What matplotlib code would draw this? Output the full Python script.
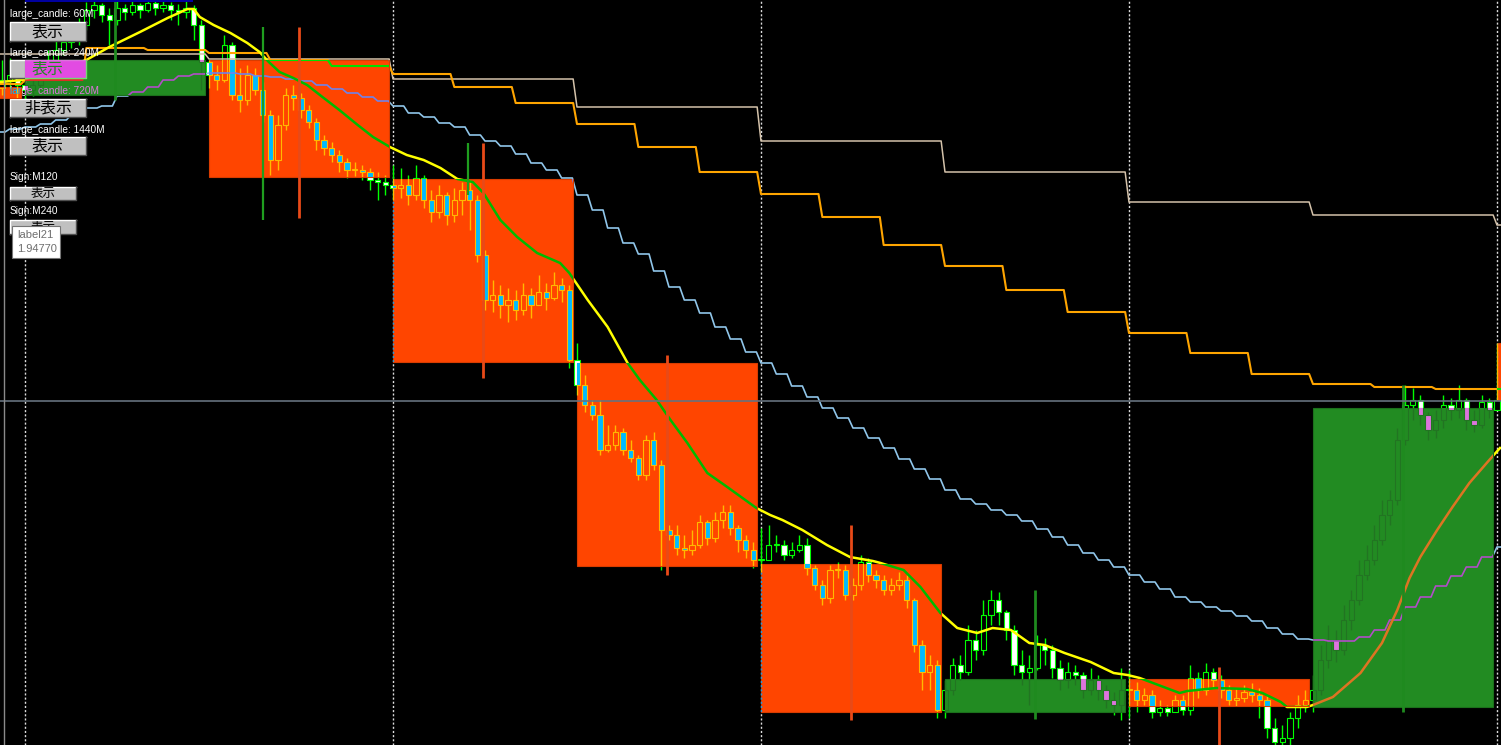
#!/usr/bin/env python3
import matplotlib
matplotlib.use("Agg")
import matplotlib.pyplot as plt
import numpy as np
from matplotlib.colors import to_rgb
from matplotlib.patches import Rectangle
from matplotlib.transforms import Bbox, TransformedBbox

W, H = 1501, 745

# prices are kept in pips above BASE
BASE = 1.9000
PIP = 0.0001

# 30 minute bars, time in hours from the first day separator
BAR_T0 = -1.5
BAR_DT = 0.5
FIRST_OPEN = 912

bar_close = [
    920, 925, 915,
    910, 915, 930, 940, 950, 958, 960, 975, 990, 995, 985, 980,
    992, 988, 995, 990, 997, 992, 995, 990, 988, 992, 975, 938,
    925, 920, 955, 905, 900, 925, 910, 885, 840, 875, 905, 902,
    890, 878, 860, 852, 845, 838, 830, 830, 828, 820, 818, 815,
    812, 815, 805, 822, 800, 788, 805, 785, 800, 810, 800, 745,
    700, 705, 695, 700, 690, 705, 695, 708, 702, 715, 710, 640,
    615, 595, 585, 550, 555, 568, 550, 542, 525, 560, 535, 470,
    465, 452, 450, 455, 478, 462, 480, 488, 472, 460, 450, 440,
    440, 455, 455, 445, 450, 455, 432, 415, 402, 430, 430, 405,
    415, 438, 425, 420, 410, 415, 420, 400, 355, 328, 335, 290,
    310, 335, 328, 360, 350, 385, 400, 388, 370, 335, 328, 332,
    355, 350, 332, 320, 328, 325, 310, 320, 310, 300, 295, 310,
    310, 300, 305, 288, 292, 288, 300, 290, 322, 310, 328, 320,
    310, 300, 302, 308, 305, 300, 272, 258, 262, 282, 295, 300,
    310, 340, 360, 350, 380, 400, 425, 440, 460, 485, 500, 560,
    595, 600, 585, 570, 580, 595, 590, 600, 580, 575, 598, 590,
    600,
]
bar_high = [
    940, 942, 930,
    920, 925, 938, 950, 960, 965, 970, 982, 998, 1000, 997, 992,
    1000, 996, 1000, 997, 1003, 1000, 1002, 998, 996, 1001, 995, 980,
    940, 935, 965, 958, 932, 935, 932, 918, 890, 885, 912, 915,
    907, 895, 882, 865, 858, 850, 842, 838, 835, 832, 828, 825,
    835, 832, 825, 835, 825, 810, 815, 808, 812, 818, 820, 805,
    750, 720, 715, 712, 710, 717, 712, 725, 717, 728, 722, 715,
    657, 625, 600, 600, 575, 575, 572, 560, 545, 565, 568, 540,
    475, 475, 465, 470, 485, 480, 488, 495, 495, 475, 465, 458,
    472, 475, 465, 460, 458, 465, 462, 435, 420, 435, 438, 435,
    422, 445, 442, 430, 425, 422, 428, 425, 402, 360, 345, 340,
    320, 342, 345, 375, 370, 400, 410, 408, 390, 375, 350, 345,
    365, 362, 355, 340, 338, 335, 328, 332, 325, 315, 308, 332,
    330, 318, 312, 310, 300, 295, 305, 305, 335, 328, 337, 332,
    325, 315, 312, 315, 317, 312, 305, 282, 275, 288, 305, 310,
    325, 355, 375, 370, 395, 410, 440, 455, 475, 500, 510, 572,
    615, 612, 605, 588, 590, 605, 602, 615, 602, 590, 605, 602,
    657,
]
bar_low = [
    905, 912, 902,
    900, 904, 910, 925, 935, 945, 952, 955, 970, 982, 978, 955,
    975, 980, 985, 982, 988, 985, 988, 980, 975, 982, 960, 910,
    912, 910, 918, 900, 888, 895, 905, 878, 825, 830, 870, 890,
    882, 872, 850, 845, 838, 828, 822, 824, 820, 810, 800, 805,
    800, 802, 795, 800, 792, 778, 782, 775, 778, 785, 770, 738,
    690, 688, 682, 678, 680, 685, 682, 695, 690, 700, 698, 632,
    605, 588, 580, 545, 548, 550, 545, 538, 520, 520, 530, 430,
    460, 445, 442, 445, 452, 455, 458, 472, 465, 448, 442, 432,
    428, 440, 448, 440, 442, 448, 425, 410, 395, 397, 422, 400,
    400, 410, 418, 412, 405, 405, 410, 392, 348, 310, 310, 282,
    282, 305, 320, 325, 340, 345, 375, 375, 360, 325, 315, 295,
    330, 335, 322, 310, 312, 315, 302, 305, 300, 292, 285, 280,
    282, 288, 295, 282, 284, 284, 288, 285, 285, 302, 305, 312,
    302, 295, 294, 298, 298, 282, 262, 250, 248, 255, 272, 288,
    288, 305, 332, 338, 345, 370, 395, 420, 435, 455, 475, 495,
    555, 580, 575, 560, 562, 572, 580, 582, 570, 568, 572, 582,
    590,
]

# 720 minute "large candles"
BIG_T0 = -12
BIG_SPAN = 12
big_open = [913, 905, 940, 821, 637, 436, 288, 321, 293, 657]
big_close = [902, 940, 823, 638, 434, 288, 321, 294, 592, 600]
big_high = [913, 1000, 973, 857, 645, 475, 410, 333, 615, 657]
big_low = [902, 900, 782, 622, 425, 280, 281, 240, 288, 600]

# higher timeframe step lines
STEP4_T0 = -4
step4_vals = [916, 920, 952, 950, 947, 940, 934, 926, 913, 897, 876, 853, 828,
              806, 783, 755, 734, 710, 688, 667, 647, 626, 616, 613, 611, 611]
STEP12_T0 = -12
step12_vals = [946, 946, 941, 921, 893, 859, 828, 798, 785, 775]
BLUE_T0 = -2
blue_vals = [
    868, 871, 873, 876, 880, 885, 892, 894, 904, 908, 913, 920, 924, 926,
    927, 927, 926, 924, 923, 921, 919, 915, 911, 907, 903, 899, 894, 887,
    883, 877, 873, 865, 859, 854, 846, 837, 830, 822, 805, 790, 772, 757,
    746, 729, 713, 700, 687, 673, 661, 648, 637, 626, 614, 603, 592, 582,
    572, 562, 552, 541, 531, 521, 510, 501, 496, 490, 485, 479, 471, 463,
    455, 447, 440, 433, 425, 418, 411, 403, 398, 393, 389, 384, 379, 372,
    366, 361, 360, 359, 359, 363, 370, 380, 393, 403, 414, 424, 433, 443,
    453, 460,
]

# moving average
ma_t = [-1.6, -0.2, 1.6, 4.0, 5.5, 7.5, 9.3, 10.6, 11.0, 11.4, 12.3, 13.4, 14.5,
        15.3, 15.9, 16.6, 17.5, 18.4, 19.4, 20.5, 21.7, 22.7, 23.8, 24.9, 26.0,
        27.1, 28.2, 29.2, 29.9, 31.0, 32.1, 33.4, 34.9, 35.5, 36.7, 38.0, 39.3,
        40.1, 41.2, 42.1, 43.2, 44.5, 45.8, 47.7, 48.6, 49.4, 50.7, 52.3, 53.8,
        55.3, 55.8, 57.3, 58.4, 59.7, 60.8, 62.1, 63.1, 64.3, 65.5, 66.5, 67.8,
        69.5, 71.0, 71.9, 72.7, 75.3, 75.8, 77.7, 79.7, 80.7, 81.9, 82.3, 83.6,
        84.0, 85.3, 86.2, 87.1, 88.5, 89.5, 90.3, 91.0, 92.1, 93.1, 94.2, 95.5,
        96.2]
ma_p = [918, 920, 928, 940, 953, 968, 982, 991, 991, 983, 975, 967, 957, 948,
        938, 928, 922, 915, 903, 890, 875, 863, 853, 845, 840, 832, 821, 818,
        807, 780, 763, 747, 737, 727, 700, 673, 637, 620, 600, 580, 557, 527,
        513, 492, 485, 480, 470, 455, 443, 439, 437, 430, 413, 387, 372, 367,
        372, 370, 357, 355, 347, 338, 327, 325, 322, 307, 309, 312, 311, 307,
        298, 293, 293, 295, 303, 315, 327, 357, 390, 422, 443, 470, 493, 517,
        540, 552]

spike_t = [15.5, 28.9]
spike_top = [973, 857]
spike_bot = [780, 805]

day_lines = [0, 24, 48, 72, 96]
BID = 599

# control panel (pixel positions from the top left)
panel_labels = [
    (10, 14, "large_candle: 60M"),
    (10, 53, "large_candle: 240M"),
    (10, 91, "large_candle: 720M"),
    (10, 130, "large_candle: 1440M"),
    (10, 177, "Sign:M120"),
    (10, 211, "Sign:M240"),
]
panel_buttons = [
    (10, 22, 86, 41, "表示", 11.5),
    (10, 60, 86, 78, "表示", 11.5),
    (10, 99, 86, 117, "非表示", 11.5),
    (10, 137, 86, 155, "表示", 11.5),
    (10, 187, 76, 200, "表示", 9.0),
    (10, 220, 76, 234, "表示", 9.0),
]
tooltip_lines = ["label21", "1.94770"]

LIME = "#00ff00"
WHITE = "#ffffff"
BLACK = "#000000"
YELLOW = "#ffff00"
ORANGE = "#ffa500"
TAN = "#d4c2aa"
BLUE = "#90c6ea"
DOT = "#dcdcdc"
BUTTON = "#c0c0c0"
BEAR_BOX = "#ff4500"
BULL_BOX = "#228b22"

XLIM = (-25 / 15.333, (W - 25) / 15.333)
YLIM = (BASE + 255 * PIP, BASE + 1000 * PIP)


def price(p):
    return BASE + np.asarray(p, float) * PIP


def xor_with(base_hex):
    b = [int(round(v * 255)) for v in to_rgb(base_hex)]

    def tint(c):
        a = [int(round(v * 255)) for v in to_rgb(c)]
        return "#%02x%02x%02x" % tuple(x ^ y for x, y in zip(a, b))
    return tint


def step_path(t0, span, vals, ramp):
    xs, ys = [], []
    for i, v in enumerate(vals):
        s = t0 + i * span
        xs += [s, s + span - ramp]
        ys += [v, v]
    return np.array(xs), price(ys)


def ax_xy(x, y):
    return x / W, 1 - y / H


def px_box(x0, y0, x1, y1):
    return Bbox([[x0, H - y1], [x1, H - y0]])


def draw_scene(ax, tint, z0, clip=None):
    arts = []

    def shown(x0, y0, x1, y1):
        return clip is None or px_box(x0, y0, x1, y1).overlaps(clip)

    for d in day_lines:
        arts.append(ax.axvline(d, color=tint(DOT), lw=1.0, ls=(0, (1.5, 1.5)), zorder=z0))

    close = np.array(bar_close, float)
    opens = np.concatenate([[FIRST_OPEN], close[:-1]])
    t = BAR_T0 + BAR_DT * np.arange(len(close))
    arts.append(ax.vlines(t, price(bar_low), price(bar_high), colors=tint(LIME),
                          lw=1.0, zorder=z0 + 1))
    bottoms = price(np.minimum(opens, close))
    heights = np.maximum(np.abs(close - opens), 0.6) * PIP
    faces = [tint(WHITE) if c < o else tint(BLACK) for o, c in zip(opens, close)]
    bars = ax.bar(t, heights, width=0.34, bottom=bottoms, color=faces,
                  edgecolor=tint(LIME), linewidth=0.8, zorder=z0 + 1.1)
    arts.extend(bars.patches)

    x, y = step_path(STEP12_T0, 12, step12_vals, 0.25)
    arts += ax.plot(x, y, color=tint(TAN), lw=1.1, zorder=z0 + 2)
    x, y = step_path(STEP4_T0, 4, step4_vals, 0.25)
    arts += ax.plot(x, y, color=tint(ORANGE), lw=1.5, zorder=z0 + 2.1)
    x, y = step_path(BLUE_T0, 1, blue_vals, 0.3)
    arts += ax.plot(x, y, color=tint(BLUE), lw=1.2, zorder=z0 + 2.2)
    arts += ax.plot(ma_t, price(ma_p), color=tint(YELLOW), lw=1.8, zorder=z0 + 3)

    # panel, only where the box covers it
    for x0, y0, x1, y1, s, fs in panel_buttons:
        if not shown(x0, y0, x1, y1):
            continue
        ax0, ay1 = ax_xy(x0, y1)
        ax1, ay0 = ax_xy(x1, y0)
        r = Rectangle((ax0, ay1), ax1 - ax0, ay0 - ay1, transform=ax.transAxes,
                      facecolor=tint(BUTTON), edgecolor="none", zorder=z0 + 4)
        ax.add_patch(r)
        arts.append(r)
        arts += ax.plot([ax0, ax0, ax1], [ay1, ay0, ay0], transform=ax.transAxes,
                        color=tint(WHITE), lw=1.0, zorder=z0 + 4.1)
        arts += ax.plot([ax0, ax1, ax1], [ay1, ay1, ay0], transform=ax.transAxes,
                        color=tint("#505050"), lw=1.0, zorder=z0 + 4.1)
        cx, cy = ax_xy((x0 + x1) / 2, (y0 + y1) / 2)
        arts.append(ax.text(cx, cy, s, transform=ax.transAxes, fontsize=fs,
                            family=["Noto Sans CJK JP", "DejaVu Sans"],
                            color=tint(BLACK), ha="center", va="center",
                            zorder=z0 + 4.2))
    for x, y, s in panel_labels:
        if not shown(x, y - 5, x + 95, y + 5):
            continue
        tx, ty = ax_xy(x, y)
        arts.append(ax.text(tx, ty, s, transform=ax.transAxes, fontsize=7.3,
                            family="Liberation Sans", color=tint(WHITE),
                            ha="left", va="center", zorder=z0 + 5))

    if clip is not None:
        for a in arts:
            a.set_clip_on(True)
            a.set_clip_box(clip)


def main():
    fig = plt.figure(figsize=(W / 100, H / 100), dpi=100, facecolor="black")
    ax = fig.add_axes([0, 0, 1, 1])
    ax.set_facecolor("black")
    ax.set_axis_off()
    ax.set_xlim(*XLIM)
    ax.set_ylim(*YLIM)
    ax.set_autoscale_on(False)

    draw_scene(ax, lambda c: c, 1)

    for i, (o, c, hi, lo) in enumerate(zip(big_open, big_close, big_high, big_low)):
        s = BIG_T0 + i * BIG_SPAN
        bull = c > o
        col = BULL_BOX if bull else BEAR_BOX
        edge = "#1c701c" if bull else "#d83c00"
        y0, y1 = price(min(o, c)), price(max(o, c))
        ax.add_patch(Rectangle((s, y0), BIG_SPAN - 0.25, y1 - y0, facecolor=col,
                               edgecolor=edge, lw=0.8, zorder=10))
        clip = TransformedBbox(Bbox([[s, y0], [s + BIG_SPAN - 0.25, y1]]), ax.transData)
        draw_scene(ax, xor_with(col), 20, clip)
        wick_col = "#1f8a1f" if bull else "#e84a18"
        ax.vlines(s + 5.85, price(lo), price(hi), colors=wick_col, lw=2.0, zorder=30)

    ax.vlines(spike_t, price(spike_bot), price(spike_top), colors="#1f9e1f",
              lw=1.6, zorder=31)

    ax.axhline(price(BID), color="#66727e", lw=1.2, zorder=35)

    # window chrome
    ax.plot([4 / W, 4 / W], [0, 1], transform=ax.transAxes, color="#8a8a8a",
            lw=1.0, zorder=36)
    ax.add_patch(Rectangle(ax_xy(25, 2), 168 / W, 2 / H, transform=ax.transAxes,
                           facecolor="#0000a0", edgecolor="none", zorder=36))

    # tooltip
    tx0, ty1 = ax_xy(12, 258)
    tx1, ty0 = ax_xy(60, 226)
    ax.add_patch(Rectangle((tx0, ty1), tx1 - tx0, ty0 - ty1, transform=ax.transAxes,
                           facecolor="white", edgecolor="#767676", lw=0.8, zorder=40))
    for k, s in enumerate(tooltip_lines):
        x, y = ax_xy(17, 235 + 14 * k)
        ax.text(x, y, s, transform=ax.transAxes, fontsize=8, family="Liberation Sans",
                color="#6e6e6e", ha="left", va="center", zorder=41)

    fig.savefig("out.png", dpi=100, facecolor="black")
    plt.close(fig)


if __name__ == "__main__":
    main()
